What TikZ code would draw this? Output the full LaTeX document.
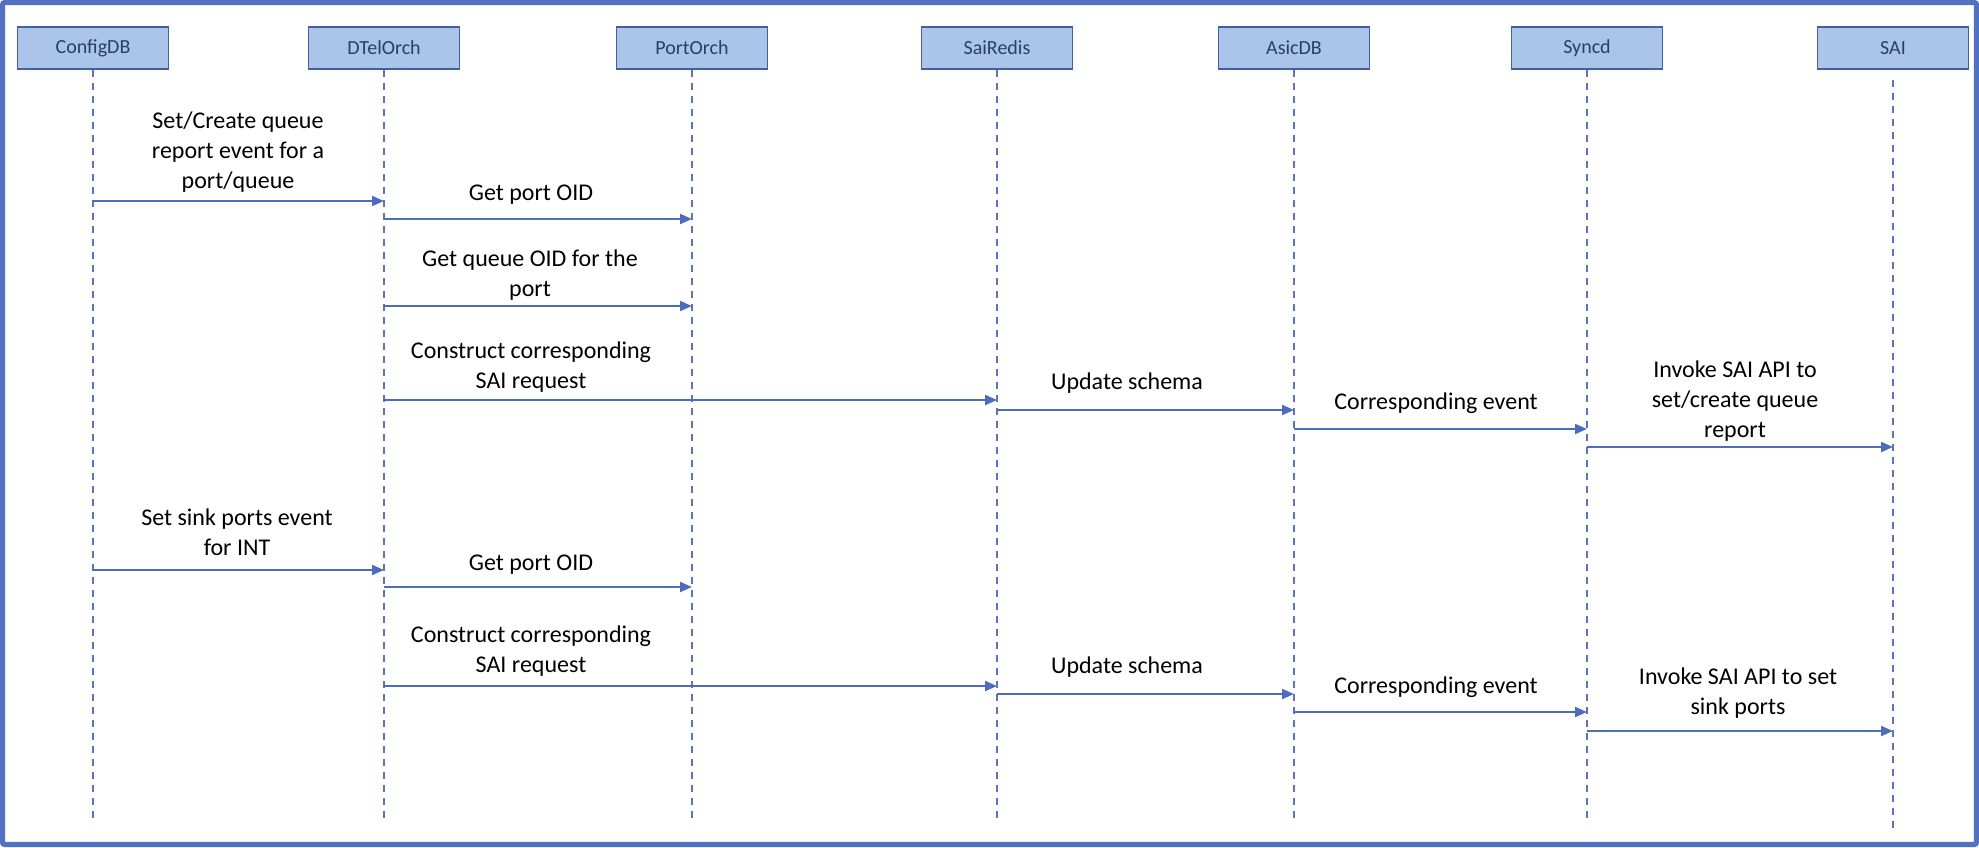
\documentclass[tikz,border=0pt]{standalone}
\usepackage{fontspec}
\setmainfont{Carlito}
\usetikzlibrary{arrows.meta}
\definecolor{framec}{RGB}{82,113,192}
\definecolor{linec}{RGB}{78,108,188}
\definecolor{lifec}{RGB}{92,116,184}
\definecolor{boxfill}{RGB}{170,196,234}
\definecolor{boxdraw}{RGB}{66,96,160}
\definecolor{hdrtext}{RGB}{42,62,102}
\begin{document}
\begin{tikzpicture}[x=0.5pt,y=-0.5pt,
  hdr/.style={draw=boxdraw,fill=boxfill,line width=0.8pt,minimum width=75.5pt,minimum height=21pt,inner sep=0pt,text=hdrtext,font=\fontsize{10}{12}\selectfont},
  life/.style={draw=lifec,line width=0.9pt,dash pattern=on 3.5pt off 3pt},
  msg/.style={draw=linec,line width=1pt,-{Triangle[length=6pt,width=5pt]}},
  lbl/.style={align=center,inner sep=0pt,font=\fontsize{12}{15}\selectfont}]
\useasboundingbox (0,0) rectangle (1979,847);
\draw[framec,line width=2.6pt,rounded corners=1pt] (2.6,2.6) rectangle (1976.4,844.4);
% headers
\node[hdr] (cfg)  at (93,48)   {ConfigDB};
\node[hdr] (dtel) at (384,48)  {DTelOrch};
\node[hdr] (port) at (692,48)  {PortOrch};
\node[hdr] (sair) at (997,48)  {SaiRedis};
\node[hdr] (asic) at (1294,48) {AsicDB};
\node[hdr] (sync) at (1587,48) {Syncd};
\node[hdr] (sai)  at (1893,48) {SAI};
% lifelines
\draw[life] (cfg.south)  -- (cfg  |- 0,822);
\draw[life] (dtel.south) -- (dtel |- 0,822);
\draw[life] (port.south) -- (port |- 0,822);
\draw[life] (sair.south) -- (sair |- 0,822);
\draw[life] (asic.south) -- (asic |- 0,822);
\draw[life] (sync.south) -- (sync |- 0,822);
\draw[life] ([yshift=-5pt]sai.south) -- (sai |- 0,830);
% block 1
\draw[msg] (cfg |- 0,201) -- (dtel |- 0,201);
\node[lbl] (t1) at (238,152) {Set/Create queue\\report event for a\\port/queue};
\draw[msg] (dtel |- 0,219) -- (port |- 0,219);
\node[lbl] (t2) at (531,195) {Get port OID};
\draw[msg] (dtel |- 0,306) -- (port |- 0,306);
\node[lbl] (t3) at (530,275) {Get queue OID for the\\port};
\draw[msg] (dtel |- 0,400) -- (sair |- 0,400);
\node[lbl] (t4) at (531,367) {Construct corresponding\\SAI request};
\draw[msg] (sair |- 0,410) -- (asic |- 0,410);
\node[lbl] (t5) at (1127,383) {Update schema};
\draw[msg] (asic |- 0,429) -- (sync |- 0,429);
\node[lbl] (t6) at (1436,403) {Corresponding event};
\draw[msg] (sync |- 0,447) -- (sai |- 0,447);
\node[lbl] (t7) at (1735,401) {Invoke SAI API to\\set/create queue\\report};
% block 2
\draw[msg] (cfg |- 0,570) -- (dtel |- 0,570);
\node[lbl] (t8) at (237,532) {Set sink ports event\\for INT};
\draw[msg] (dtel |- 0,587) -- (port |- 0,587);
\node[lbl] (t9) at (531,565) {Get port OID};
\draw[msg] (dtel |- 0,686) -- (sair |- 0,686);
\node[lbl] (t10) at (531,651) {Construct corresponding\\SAI request};
\draw[msg] (sair |- 0,694) -- (asic |- 0,694);
\node[lbl] (t11) at (1127,667) {Update schema};
\draw[msg] (asic |- 0,712) -- (sync |- 0,712);
\node[lbl] (t12) at (1436,687) {Corresponding event};
\draw[msg] (sync |- 0,731) -- (sai |- 0,731);
\node[lbl] (t13) at (1738,693) {Invoke SAI API to set\\sink ports};
\end{tikzpicture}
\end{document}
